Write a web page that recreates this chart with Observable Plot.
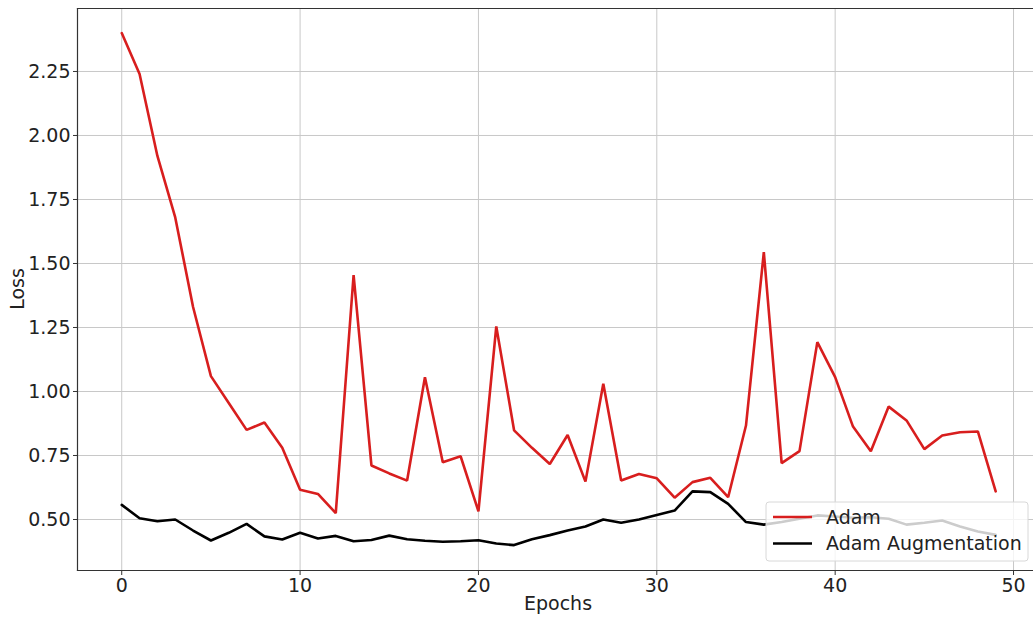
<!DOCTYPE html>
<html>
<head>
<meta charset="utf-8">
<script src="https://cdn.jsdelivr.net/npm/d3@7"></script>
<script src="https://cdn.jsdelivr.net/npm/@observablehq/plot@0.6"></script>
<style>
  html, body { margin: 0; padding: 0; background: #fff; }
  #chart { width: 1033px; height: 617px; overflow: hidden; }
</style>
</head>
<body>
<div id="chart"></div>
<script>
const epochs = d3.range(50);
const adam = [2.40, 2.24, 1.92, 1.68, 1.33, 1.06, 0.955, 0.85, 0.879, 0.78,
              0.616, 0.60, 0.525, 1.455, 0.711, 0.68, 0.652, 1.056, 0.724, 0.747,
              0.532, 1.254, 0.848, 0.78, 0.717, 0.83, 0.648, 1.03, 0.652, 0.678,
              0.661, 0.585, 0.646, 0.663, 0.587, 0.867, 1.544, 0.72, 0.767, 1.193,
              1.056, 0.863, 0.767, 0.941, 0.887, 0.775, 0.828, 0.841, 0.844, 0.61];
const adamAug = [0.557, 0.505, 0.493, 0.50, 0.457, 0.418, 0.448, 0.483, 0.434, 0.422,
                 0.448, 0.426, 0.436, 0.415, 0.42, 0.437, 0.423, 0.417, 0.413, 0.415,
                 0.419, 0.406, 0.40, 0.423, 0.439, 0.457, 0.473, 0.50, 0.487, 0.50,
                 0.518, 0.535, 0.61, 0.607, 0.561, 0.49, 0.48, 0.49, 0.503, 0.516,
                 0.512, 0.507, 0.509, 0.503, 0.48, 0.487, 0.496, 0.473, 0.453, 0.44];
const seriesNames = ["Adam", "Adam Augmentation"];
const seriesColors = ["#d81e1e", "#000000"];
const xTicks = [0, 10, 20, 30, 40, 50];
const yTicks = [0.50, 0.75, 1.00, 1.25, 1.50, 1.75, 2.00, 2.25];

const rows = [];
epochs.forEach((e, i) => {
  rows.push({epoch: e, loss: adam[i], series: seriesNames[0]});
  rows.push({epoch: e, loss: adamAug[i], series: seriesNames[1]});
});

const font = "DejaVu Sans, sans-serif";
const FS = 19;
const W = 1033, H = 617, mL = 77, mT = 8, mB = 47, mR = 0;

const plot = Plot.plot({
  width: W, height: H,
  marginLeft: mL, marginTop: mT, marginBottom: mB, marginRight: mR,
  style: {fontFamily: font, fontSize: FS + "px", color: "#222", background: "#fff"},
  x: {domain: [-2.48, 51.12], ticks: xTicks, label: null},
  y: {domain: [0.3008, 2.496], ticks: yTicks, label: null, tickFormat: d3.format(".2f")},
  color: {domain: seriesNames, range: seriesColors},
  marks: [
    Plot.gridX(xTicks, {stroke: "#c8c8c8", strokeOpacity: 1, strokeWidth: 1}),
    Plot.gridY(yTicks, {stroke: "#c8c8c8", strokeOpacity: 1, strokeWidth: 1}),
    Plot.axisX(xTicks, {tickSize: 5, tickPadding: 3, fontSize: FS, stroke: "#333", label: null}),
    Plot.axisY(yTicks, {tickSize: 4, tickPadding: 3, fontSize: FS, stroke: "#333", label: null, tickFormat: d3.format(".2f")}),
    Plot.frame({anchor: "left", stroke: "#333", strokeWidth: 1.2}),
    Plot.frame({anchor: "top", stroke: "#333", strokeWidth: 1.2}),
    Plot.frame({anchor: "bottom", stroke: "#333", strokeWidth: 1.2}),
    Plot.line(rows, {x: "epoch", y: "loss", z: "series", stroke: "series", strokeWidth: 2.6, strokeLinejoin: "miter"})
  ]
});
document.getElementById("chart").appendChild(plot);

const svg = d3.select(plot);
// axis titles
svg.append("text")
  .attr("x", 558).attr("y", 610)
  .attr("text-anchor", "middle")
  .attr("font-family", font).attr("font-size", FS).attr("fill", "#222")
  .text("Epochs");
svg.append("text")
  .attr("transform", "translate(24,289) rotate(-90)")
  .attr("text-anchor", "middle")
  .attr("font-family", font).attr("font-size", FS).attr("fill", "#222")
  .text("Loss");

// legend
const lg = svg.append("g").attr("text-anchor", "start");
lg.append("rect")
  .attr("x", 766).attr("y", 502).attr("width", 262).attr("height", 59)
  .attr("rx", 3).attr("fill", "#fff").attr("fill-opacity", 0.8)
  .attr("stroke", "#d8d8d8").attr("stroke-width", 1);
seriesNames.forEach((name, i) => {
  const yy = 517 + i * 26.5;
  lg.append("line")
    .attr("x1", 773).attr("x2", 812).attr("y1", yy).attr("y2", yy)
    .attr("stroke", seriesColors[i]).attr("stroke-width", 2.6);
  lg.append("text")
    .attr("x", 826).attr("y", yy).attr("dy", "0.36em")
    .attr("text-anchor", "start")
    .attr("font-family", font).attr("font-size", FS).attr("fill", "#222")
    .text(name);
});
</script>
</body>
</html>
